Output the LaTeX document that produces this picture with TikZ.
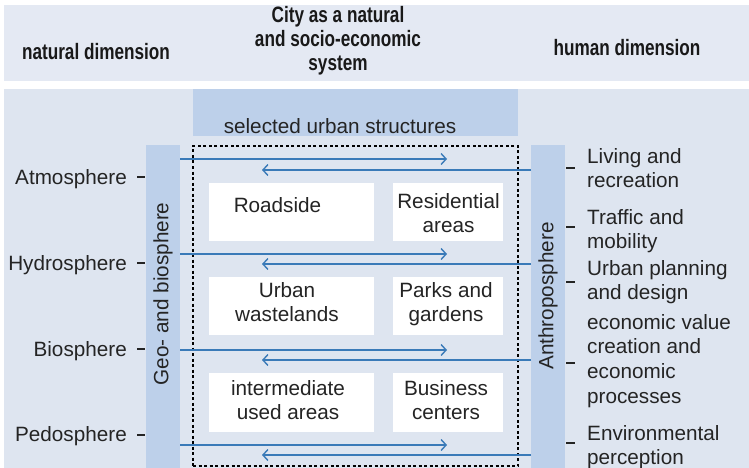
\documentclass[tikz,border=0pt]{standalone}
\usepackage{fontspec}
\setmainfont{Liberation Sans}
\newfontfamily\hdrfont[FakeStretch=0.77]{Liberation Sans Bold}
\usetikzlibrary{arrows.meta}
\definecolor{hdrbg}{HTML}{E4E9F3}
\definecolor{mainbg}{HTML}{DEE5F0}
\definecolor{colbg}{HTML}{BDD0EA}
\definecolor{arrowblue}{HTML}{3A7AB8}
\definecolor{txt}{HTML}{242424}
\newcommand{\mlines}[2]{\begin{tabular}[t]{@{}#1@{}}#2\end{tabular}}
\begin{document}
\begin{tikzpicture}[x=1pt,y=-1pt,
  body/.style={font=\fontsize{20.7}{24.7}\selectfont, text=txt, inner sep=0pt},
  hdr/.style={font=\hdrfont\fontsize{22.3}{24}\selectfont, text=black!90, inner sep=0pt, anchor=base},
  band/.style={draw=none, inner sep=0pt, outer sep=0pt},
  whitebox/.style={fill=white, draw=none, inner sep=0pt, outer sep=0pt},
  flow/.style={draw=arrowblue, line width=1.4pt, -{Straight Barb[length=5pt,width=11pt]}},
  tick/.style={draw=txt, line width=1.3pt},
]
\useasboundingbox (0,0) rectangle (749,468);
% background bands
\node[band, fill=hdrbg, minimum width=745pt, minimum height=76pt] (hdrband) at (376.5,43) {};
\node[band, fill=mainbg, minimum width=745pt, minimum height=379pt] (mainband) at (376.5,278.5) {};
\node[band, fill=colbg, minimum width=325pt, minimum height=47pt] (selbox) at (355.5,112.5) {};
\node[body, anchor=base] (seltxt) at (340,133) {selected urban structures};
% columns
\node[band, fill=colbg, minimum width=34pt, minimum height=323pt] (geo) at (163,306.5) {};
\node[band, fill=colbg, minimum width=34pt, minimum height=323pt] (anthro) at (548,306.5) {};
\node[body, rotate=90] (geotxt) at (163,294) {Geo- and biosphere};
\node[body, rotate=90] (anthrotxt) at (548,296) {Anthroposphere};
% dashed frame
\node[draw=black, dash pattern=on 3pt off 2.5pt, line width=1.3pt, inner sep=0pt,
      minimum width=325pt, minimum height=320pt] (frame) at (355.5,306) {};
% white boxes
\node[whitebox, minimum width=165pt, minimum height=58pt] (road) at (291.5,212) {};
\node[whitebox, minimum width=110pt, minimum height=58pt] (resi) at (448,212) {};
\node[whitebox, minimum width=165pt, minimum height=58pt] (waste) at (291.5,305.5) {};
\node[whitebox, minimum width=110pt, minimum height=58pt] (parks) at (448,305.5) {};
\node[whitebox, minimum width=165pt, minimum height=59pt] (inter) at (291.5,402.5) {};
\node[whitebox, minimum width=110pt, minimum height=59pt] (busi) at (448,402.5) {};
\node[body, anchor=base] (roadtxt) at (277.5,212) {Roadside};
\node[body, anchor=base] (resitxt) at (448.5,208) {\mlines{c}{Residential\\areas}};
\node[body, anchor=base] (wastetxt) at (287,297) {\mlines{c}{Urban\\wastelands}};
\node[body, anchor=base] (parkstxt) at (446,297) {\mlines{c}{Parks and\\gardens}};
\node[body, anchor=base] (intertxt) at (288,395) {\mlines{c}{intermediate\\used areas}};
\node[body, anchor=base] (busitxt) at (446,395) {\mlines{c}{Business\\centers}};
% arrows
\foreach \ya/\yb [count=\i] in {159/170,254/264,350/360,445/455} {
  \coordinate (rt\i) at (447,\ya);
  \coordinate (lt\i) at (262,\yb);
  \draw[flow] (geo.east |- rt\i) -- (rt\i);
  \draw[flow] (anthro.west |- lt\i) -- (lt\i);
}
% headers
\node[hdr] (nat) at (96,60) {natural dimension};
\node[hdr] (city) at (338,23) {\mlines{c}{City as a natural\\and socio-economic\\system}};
\node[hdr] (hum) at (627,56) {human dimension};
% left labels
\node[body, anchor=base east] (atm) at (127,184) {Atmosphere};
\node[body, anchor=base east] (hyd) at (127,270) {Hydrosphere};
\node[body, anchor=base east] (bio) at (127,356) {Biosphere};
\node[body, anchor=base east] (ped) at (127,441) {Pedosphere};
\foreach \y in {177,263,349,435} { \draw[tick] (137,\y) -- (145,\y); }
% right labels
\node[body, anchor=base west] (liv) at (587,163) {\mlines{l}{Living and\\recreation}};
\node[body, anchor=base west] (traf) at (587,224) {\mlines{l}{Traffic and\\mobility}};
\node[body, anchor=base west] (plan) at (587,275) {\mlines{l}{Urban planning\\and design}};
\node[body, anchor=base west] (econ) at (587,329) {\mlines{l}{economic value\\creation and\\economic\\processes}};
\node[body, anchor=base west] (env) at (587,440) {\mlines{l}{Environmental\\perception}};
\foreach \y in {168,227,282,363,443} { \draw[tick] (566,\y) -- (575,\y); }
\end{tikzpicture}
\end{document}
